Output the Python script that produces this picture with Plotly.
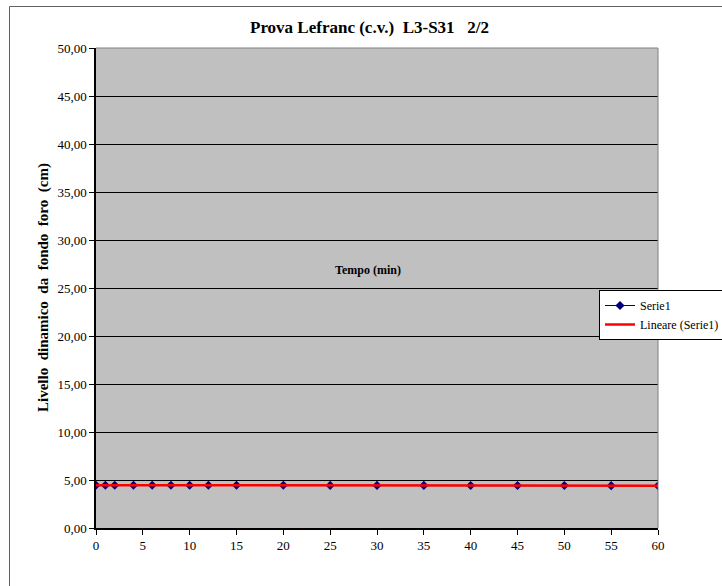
import numpy as np
import plotly.graph_objects as go

# Lefranc test readings: elapsed time (min) and dynamic level from hole bottom (cm)
tempo = [0, 1, 2, 4, 6, 8, 10, 12, 15, 20, 25, 30, 35, 40, 45, 50, 55, 60]
livello = [4.45, 4.45, 4.45, 4.45, 4.45, 4.45, 4.45, 4.45, 4.45, 4.45,
           4.44, 4.44, 4.44, 4.42, 4.42, 4.42, 4.41, 4.40]
y_ticks = [0, 5, 10, 15, 20, 25, 30, 35, 40, 45, 50]
x_ticks = [0, 5, 10, 15, 20, 25, 30, 35, 40, 45, 50, 55, 60]

# least-squares linear trend of the series
slope, intercept = np.polyfit(tempo, livello, 1)
trend_x = [min(tempo), max(tempo)]
trend_y = [slope * t + intercept for t in trend_x]

FONT = "Times New Roman, Liberation Serif, serif"
L, R, T, B = 96, 64, 48, 58
W, H = 722, 586
pw, ph = W - L - R, H - T - B
SP = "\u00a0"

def px(x):
    return (x - L) / pw

def py(y):
    return (H - B - y) / ph

fig = go.Figure()
fig.add_trace(go.Scatter(
    x=tempo, y=livello, mode="lines+markers", name="Serie1",
    line=dict(color="#000080", width=1),
    marker=dict(symbol="diamond", size=7, color="#000080"),
))
fig.add_trace(go.Scatter(
    x=trend_x, y=trend_y, mode="lines", name="Lineare (Serie1)",
    line=dict(color="#FF0000", width=2.5),
))

fig.update_layout(
    width=W, height=H,
    margin=dict(l=L, r=R, t=T, b=B, autoexpand=False),
    paper_bgcolor="white",
    plot_bgcolor="#C0C0C0",
    font=dict(family=FONT, color="black", size=13),
    showlegend=True,
    legend=dict(
        x=px(599), y=py(290), xanchor="left", yanchor="top",
        bgcolor="white", bordercolor="black", borderwidth=1,
        font=dict(family=FONT, size=12, color="black"),
        tracegroupgap=0, itemwidth=30,
    ),
    xaxis=dict(
        range=[0, 60], tickvals=x_ticks, ticktext=[str(v) for v in x_ticks],
        showgrid=False, zeroline=False,
        showline=True, linecolor="black", linewidth=1.5,
        ticks="outside", ticklen=5, tickcolor="black",
        tickfont=dict(family=FONT, size=13),
    ),
    yaxis=dict(
        range=[0, 50], tickvals=y_ticks,
        ticktext=[f"{v:.2f}".replace(".", ",") for v in y_ticks],
        showgrid=True, gridcolor="black", gridwidth=1, zeroline=False,
        showline=True, linecolor="black", linewidth=1.5,
        ticks="outside", ticklen=5, tickcolor="black",
        tickfont=dict(family=FONT, size=13),
    ),
    annotations=[
        dict(text="<b>Prova Lefranc (c.v.)" + SP * 2 + "L3-S31" + SP * 3 + "2/2</b>",
             xref="paper", yref="paper", x=px(369), y=py(27),
             xanchor="center", yanchor="middle", showarrow=False,
             font=dict(family=FONT, size=17)),
        dict(text="<b>Tempo (min)</b>",
             xref="paper", yref="paper", x=px(368), y=py(270),
             xanchor="center", yanchor="middle", showarrow=False,
             font=dict(family=FONT, size=12)),
        dict(text="<b>" + (SP * 2).join(["Livello", "dinamico", "da", "fondo", "foro", "(cm)"]) + "</b>",
             xref="paper", yref="paper", x=px(43), y=0.5, textangle=-90,
             xanchor="center", yanchor="middle", showarrow=False,
             font=dict(family=FONT, size=15)),
    ],
    shapes=[
        # plot frame: top and right edges
        dict(type="line", xref="paper", yref="paper", x0=0, x1=1, y0=1, y1=1,
             line=dict(color="#808080", width=1)),
        dict(type="line", xref="paper", yref="paper", x0=1, x1=1, y0=0, y1=1,
             line=dict(color="#808080", width=1)),
        # chart area border
        dict(type="rect", xref="paper", yref="paper",
             x0=px(9.5), x1=px(740), y0=py(600), y1=py(6.5),
             line=dict(color="#606060", width=1), fillcolor="rgba(0,0,0,0)",
             layer="below"),
    ],
)

fig.write_html("out.html")
